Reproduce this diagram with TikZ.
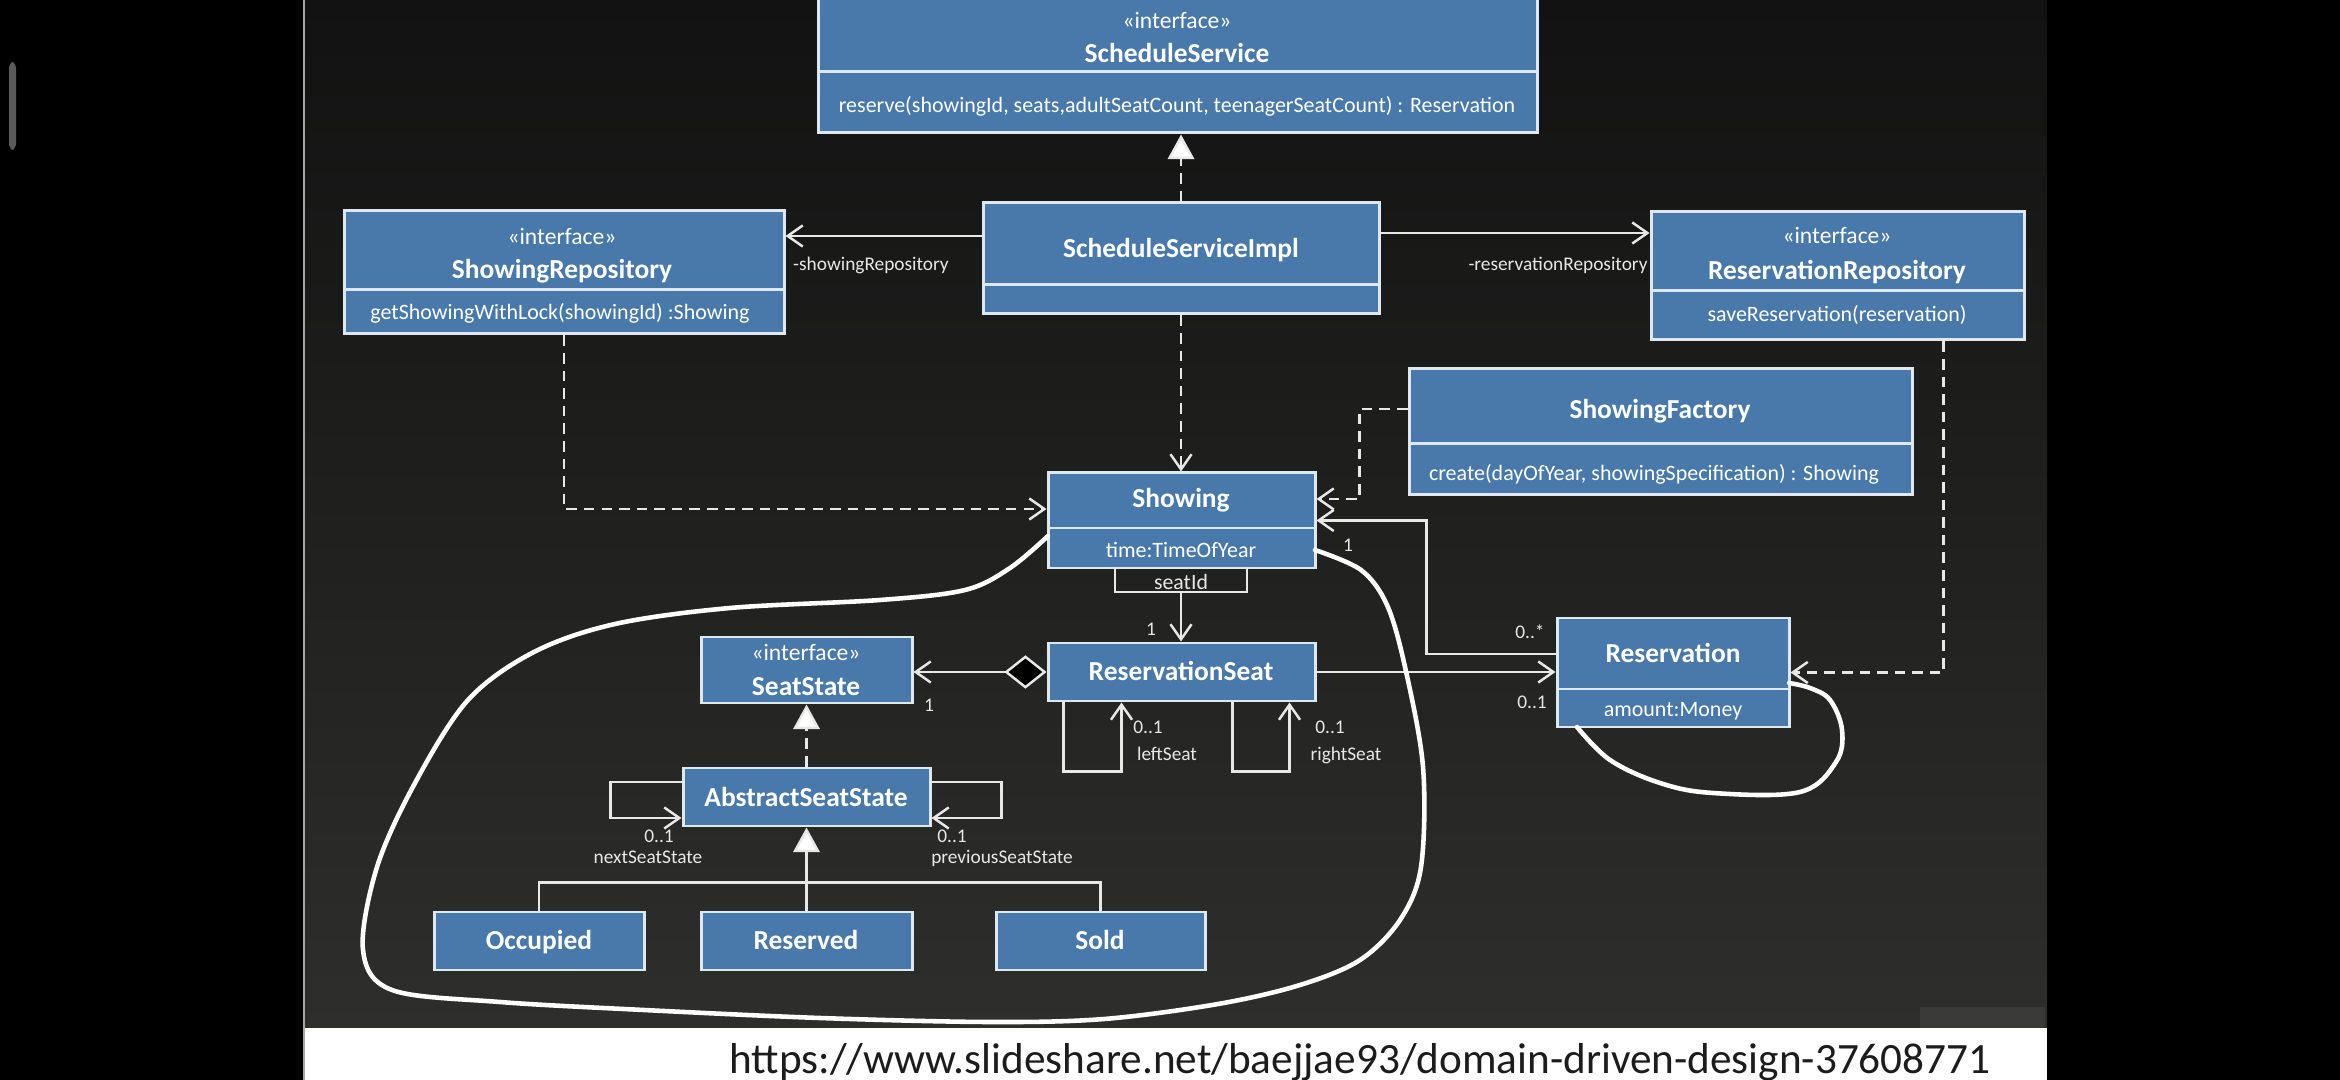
\documentclass[tikz,border=0pt]{standalone}
\usepackage{fontspec}
\setmainfont{Carlito}
\usetikzlibrary{arrows.meta,calc,fit}
\definecolor{boxblue}{RGB}{72,121,170}
\definecolor{boxline}{RGB}{222,232,242}
\definecolor{wire}{RGB}{232,232,232}
\definecolor{slidetop}{RGB}{17,18,17}
\definecolor{slidebot}{RGB}{46,47,44}
\definecolor{patch}{RGB}{58,59,56}
\definecolor{scrollgray}{RGB}{90,90,90}
\definecolor{urltext}{RGB}{28,28,28}
\tikzset{
 cls/.style={draw=boxline, fill=boxblue, line width=0.85pt, inner sep=0pt},
 divider/.style={draw=boxline, line width=0.85pt},
 cname/.style={text=white, font=\fontsize{7.8}{9}\selectfont\bfseries, anchor=mid, inner sep=0pt},
 cster/.style={text=white, font=\fontsize{6.7}{8}\selectfont, anchor=mid, inner sep=0pt},
 cmem/.style={text=white, font=\fontsize{6.25}{7.5}\selectfont, anchor=mid, inner sep=0pt},
 lbl/.style={text=wire, font=\fontsize{5.5}{6.5}\selectfont, anchor=mid, inner sep=0pt},
 qual/.style={draw=wire, line width=0.7pt, inner sep=0pt},
 wireline/.style={draw=wire, line width=0.7pt},
 assoc/.style={wireline, -{Straight Barb[length=4.3pt,width=6pt]}},
 dep/.style={assoc, dash pattern=on 3pt off 2pt},
 real/.style={wireline, dash pattern=on 3pt off 2pt, -{Triangle[length=7pt,width=7.5pt,fill=white]}},
 gen/.style={wireline, -{Triangle[length=7pt,width=7.5pt,fill=white]}},
 comp/.style={wireline, {Diamond[length=12pt,width=9.5pt,fill=black]}-{Straight Barb[length=4.3pt,width=6pt]}},
 hand/.style={draw=white, line width=1.3pt, line cap=round, line join=round},
}
\begin{document}
\begin{tikzpicture}[x=0.01cm,y=-0.01cm]
\useasboundingbox (0,0) rectangle (2340,1080);
\fill[black] (0,0) rectangle (2340,1080);
\fill[scrollgray, rounded corners=1.5pt] (9,62) rectangle (16,150);
\shade[top color=slidetop, bottom color=slidebot] (304,0) rectangle (2047,1028);
\fill[patch] (1920,1007) rectangle (2045,1028);
\fill[white] (304,1028) rectangle (2047,1080);
\draw[gray!70, line width=0.4pt] (304,0) -- (304,1080);

% ---------- classes ----------
\node[cls, fit={(818,-3) (1537,133)}] (ss) {};
\draw[divider] (818,72) -- (1537,72);
\node[cster] (ss1) at (1177,20) {«interface»};
\node[cname] (ss2) at (1177,54) {ScheduleService};
\node[cmem]  (ss3) at (1177,104) {reserve(showingId, seats,adultSeatCount, teenagerSeatCount) : Reservation};

\node[cls, fit={(983,203) (1379,314)}] (impl) {};
\draw[divider] (983,285) -- (1379,285);
\node[cname] (impl1) at (1181,249) {ScheduleServiceImpl};

\node[cls, fit={(344,211) (784,334)}] (srep) {};
\draw[divider] (344,290) -- (784,290);
\node[cster] (srep1) at (562,236) {«interface»};
\node[cname] (srep2) at (562,270) {ShowingRepository};
\node[cmem]  (srep3) at (560,311) {getShowingWithLock(showingId) :Showing};

\node[cls, fit={(1651,212) (2024,340)}] (rrep) {};
\draw[divider] (1651,291) -- (2024,291);
\node[cster] (rrep1) at (1837,235) {«interface»};
\node[cname] (rrep2) at (1837,271) {ReservationRepository};
\node[cmem]  (rrep3) at (1837,313) {saveReservation(reservation)};

\node[cls, fit={(1409,369) (1912,495)}] (fac) {};
\draw[divider] (1409,444) -- (1912,444);
\node[cname] (fac1) at (1660,410) {ShowingFactory};
\node[cmem]  (fac2) at (1654,472) {create(dayOfYear, showingSpecification) : Showing};

\node[cls, fit={(1048,473) (1315,568)}] (show) {};
\draw[divider] (1048,528) -- (1315,528);
\node[cname] (show1) at (1181,499) {Showing};
\node[cmem]  (show2) at (1181,549) {time:TimeOfYear};

\node[qual, fit={(1115,568) (1247,592)}] (q) {};
\node[lbl, font=\fontsize{6.2}{7}\selectfont] (q1) at (1181,581) {seatId};

\node[cls, fit={(1048,643) (1315,701)}] (rseat) {};
\node[cname] (rseat1) at (1181,672) {ReservationSeat};

\node[cls, fit={(701,637) (912,703)}] (sstate) {};
\node[cster] (sstate1) at (806,652) {«interface»};
\node[cname] (sstate2) at (806,687) {SeatState};

\node[cls, fit={(683,768) (930,826)}] (abs) {};
\node[cname] (abs1) at (806,798) {AbstractSeatState};

\node[cls, fit={(434,912) (644,970)}] (occ) {};
\node[cname] (occ1) at (539,941) {Occupied};
\node[cls, fit={(701,912) (912,970)}] (res) {};
\node[cname] (res1) at (806,941) {Reserved};
\node[cls, fit={(996,912) (1205,970)}] (sold) {};
\node[cname] (sold1) at (1100,941) {Sold};

\node[cls, fit={(1557,618) (1789,727)}] (resv) {};
\draw[divider] (1557,689) -- (1789,689);
\node[cname] (resv1) at (1673,654) {Reservation};
\node[cmem]  (resv2) at (1673,708) {amount:Money};

% ---------- connectors ----------
\draw[real] (impl.north) -- (impl.north |- ss.south);
\draw[assoc] ($(impl.west)+(0,-22.5)$) coordinate (a1) -- (a1 -| srep.east);
\node[lbl] (l1) at (871,262) {-showingRepository};
\draw[assoc] ($(impl.east)+(0,-25.5)$) coordinate (a2) -- (a2 -| rrep.west);
\node[lbl] (l2) at (1558,262) {-reservationRepository};
\draw[dep] (impl.south) -- (impl.south |- show.north);
\draw[dep] (srep.south) |- ($(show.west)+(0,-11.5)$);
\draw[dep] ($(fac.west)+(0,-23)$) -- ++(-48,0) |- ($(show.east)+(0,-21.5)$);
\draw[dep] ($(rrep.south)+(106,0)$) |- (resv.east);
\draw[assoc] ($(resv.west)+(0,-18.5)$) -- ++(-129,0) |- (show.east);
\node[lbl] (l3) at (1348,543) {1};
\node[lbl] (l4) at (1530,630) {0..*};
\draw[assoc] (rseat.east) -- (rseat.east -| resv.west);
\node[lbl] (l5) at (1532,700) {0..1};
\draw[assoc] (q.south) -- (q.south |- rseat.north);
\node[lbl] (l6) at (1151,627) {1};
\draw[comp] (rseat.west) -- (rseat.west -| sstate.east);
\node[lbl] (l7) at (929,703) {1};
\draw[assoc] ($(rseat.south west)+(17,0)$) -- ++(0,69) -| ($(rseat.south west)+(75,0)$);
\node[lbl] (l8) at (1148,725) {0..1};
\node[lbl] (l9) at (1167,752) {leftSeat};
\draw[assoc] ($(rseat.south west)+(186,0)$) -- ++(0,69) -| ($(rseat.south west)+(243,0)$);
\node[lbl] (l10) at (1330,725) {0..1};
\node[lbl] (l11) at (1346,752) {rightSeat};
\draw[real] (abs.north) -- (abs.north |- sstate.south);
\draw[assoc] ($(abs.west)+(0,-15)$) -- ++(-71,0) |- ($(abs.west)+(0,21)$);
\node[lbl] (l12) at (659,834) {0..1};
\node[lbl] (l13) at (648,855) {nextSeatState};
\draw[assoc] ($(abs.east)+(0,-15)$) -- ++(70,0) |- ($(abs.east)+(0,21)$);
\node[lbl] (l14) at (952,834) {0..1};
\node[lbl] (l15) at (1002,855) {previousSeatState};
\draw[gen] (res.north) -- (res.north |- abs.south);
\draw[wireline] (occ.north) -- ++(0,-28) -| (sold.north);

% ---------- hand-drawn outlines ----------
\draw[hand] plot[smooth, tension=0.55] coordinates {(1048,536) (1010,568) (965,590) (880,600) (730,608) (615,624) (534,652) (468,700) (415,783) (377,867) (363,950) (392,990) (500,1002) (644,1010) (820,1018) (989,1022) (1104,1019) (1218,1004) (1300,985) (1360,960) (1400,920) (1421,867) (1423,767) (1405,667) (1387,605) (1361,570) (1315,550)};
\draw[hand] plot[smooth, tension=0.6] coordinates {(1577,727) (1610,760) (1660,783) (1713,793) (1800,792) (1836,762) (1842,730) (1830,700) (1810,688) (1789,683)};

% ---------- caption ----------
\node[text=urltext, font=\fontsize{12.3}{14}\selectfont, anchor=base, inner sep=0pt] (url) at (1360,1073) {https://www.slideshare.net/baejjae93/domain-driven-design-37608771};
\end{tikzpicture}
\end{document}
